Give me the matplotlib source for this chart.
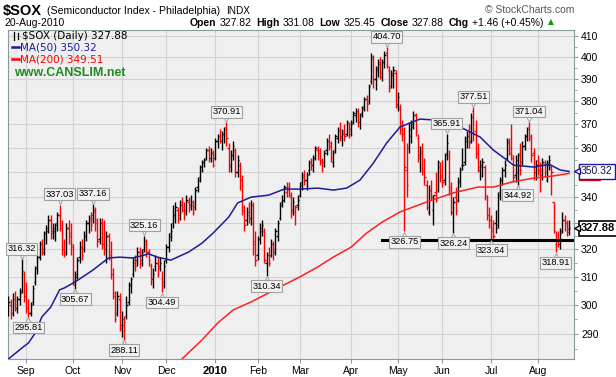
import numpy as np
import pandas as pd
import matplotlib
matplotlib.use('Agg')
import matplotlib.pyplot as plt
from matplotlib.collections import LineCollection
from matplotlib.lines import Line2D
from matplotlib.transforms import offset_copy, blended_transform_factory
from matplotlib.ticker import FixedLocator, FixedFormatter, NullFormatter

plt.rcParams['font.family'] = ['Liberation Sans', 'DejaVu Sans']

# trading days, 20-Aug-2009 .. 20-Aug-2010
holidays = ['2009-09-07', '2009-11-26', '2009-12-25', '2010-01-01', '2010-01-18',
            '2010-02-15', '2010-04-02', '2010-05-31', '2010-07-05']
dates = pd.bdate_range('2009-08-20', '2010-08-20')
dates = dates[~dates.isin(pd.to_datetime(holidays))]

opens = [
    300, 300, 297, 302, 299, 302, 305, 311,
    303, 299, 297, 301, 308, 313, 317, 322, 319, 326, 328, 331, 327, 327, 330, 333, 329, 320, 319, 328, 326,
    321, 307, 311, 317, 320, 320, 325, 330, 331, 333, 334, 330, 324, 330, 322, 320, 325, 319, 311, 303, 297, 302,
    293, 293, 296, 301, 307, 311, 315, 316, 319, 316, 320, 322, 319, 314, 309, 314, 315, 314, 309, 308,
    316, 321, 326, 330, 333, 335, 333, 338, 336, 335, 338, 337, 337, 336, 344, 348, 352, 354, 356, 359, 356, 358,
    356, 363, 365, 363, 366, 369, 360, 353, 357, 359, 350, 353, 347, 335, 331, 333, 332, 337, 323,
    318, 324, 327, 327, 315, 318, 318, 322, 319, 325, 332, 338, 339, 342, 344, 340, 335, 334, 337,
    341, 346, 349, 347, 351, 354, 353, 356, 359, 359, 354, 354, 359, 363, 362, 354, 359, 364, 368, 365, 367, 366, 370,
    368, 371, 374, 375, 371, 375, 378, 381, 380, 389, 399, 390, 395, 398, 391, 398, 402, 394, 387, 393, 393,
    379, 377, 366, 366, 351, 360, 365, 370, 374, 364, 357, 359, 350, 345, 334, 343, 335, 342, 343, 352,
    348, 347, 358, 357, 344, 334, 340, 339, 346, 353, 354, 363, 366, 363, 376, 367, 358, 351, 352, 352, 340, 333,
    331, 328, 330, 329, 342, 347, 351, 356, 362, 358, 356, 349, 350, 358, 354, 361, 365, 369, 364, 358, 350,
    355, 351, 349, 353, 347, 354, 352, 338, 322, 324, 322, 327, 331, 330, 327.82]

highs = [
    303, 302, 304, 305, 303, 306, 316.32, 312,
    308, 302, 301, 307, 314, 318, 323, 324, 327, 329, 333, 333, 330, 330, 334, 337.03, 331, 324, 330, 331, 330,
    322, 312, 317, 323, 324, 327, 331, 333, 334, 337.16, 336, 332, 332, 332, 331, 327, 326, 323, 313, 305, 305, 304,
    298, 296, 303, 308, 310, 317, 318, 321, 321, 320, 325.16, 324, 320, 315, 313, 318, 317, 317, 312, 316,
    322, 326, 330, 337, 338, 336, 339, 340, 338, 341, 340, 341, 339, 344, 348, 353, 355, 356, 360, 361, 360, 359,
    364, 366, 368, 367, 369, 370.91, 362, 359, 363, 360, 357, 354, 349, 337, 336, 338, 339, 338, 327,
    325, 330, 331, 328, 319, 321, 324, 323, 328, 331, 338, 341, 345, 346, 346, 342, 340, 337, 341,
    346, 350, 351, 350, 355, 356, 357, 361, 361, 360, 356, 359, 364, 366, 363, 359, 366, 369, 371, 368, 370, 372, 371,
    372, 376, 377, 377, 375, 378, 382, 383, 388, 402, 401, 396, 399, 400, 399, 403, 404.70, 396, 394, 396, 394,
    384, 379, 372, 369, 362, 371, 372, 376, 375, 366, 361, 362, 356, 347, 345, 347, 341, 350, 355, 354,
    355, 358, 365.91, 359, 346, 340, 344, 348, 352, 360, 365, 367, 370, 375, 377.51, 372, 362, 355, 356, 353, 341, 336,
    333, 331, 335, 342, 348, 352, 355, 364, 364, 370, 357, 357, 358, 362, 363, 366, 369, 371.04, 366, 360, 355,
    357, 354, 356, 355, 355, 357, 353, 338, 327, 327, 328, 334, 333, 331, 331.08]

lows = [
    296, 295, 296, 298, 297, 300, 304, 301,
    297, 295.81, 296, 300, 307, 311, 316, 318, 318, 322, 326, 324, 324, 323, 327, 327, 318, 317, 318, 322, 318,
    307, 305.67, 309, 315, 316, 319, 323, 326, 327, 330, 327, 321, 322, 320, 318, 315, 316, 309, 302, 294, 296, 291,
    289, 288.11, 295, 300, 304, 310, 312, 314, 313, 314, 319, 317, 314, 307, 306, 312, 310, 312, 304.49, 306,
    315, 319, 323, 328, 330, 330, 331, 334, 331, 333, 334, 335, 333, 335, 342, 346, 350, 352, 355, 354, 354, 352,
    355, 360, 362, 359, 362, 361, 350, 350, 355, 348, 348, 343, 333, 327, 329, 330, 329, 318, 314,
    316, 322, 325, 315, 310.34, 314, 317, 316, 318, 323, 331, 336, 338, 340, 340, 332, 333, 329, 335,
    340, 343, 345, 343, 349, 351, 350, 355, 355, 353, 350, 352, 357, 359, 354, 352, 358, 362, 363, 361, 363, 365, 364,
    365, 370, 371, 369, 368, 373, 376, 376, 379, 388, 386, 385, 391, 390, 389, 395, 395, 384, 386, 386, 377,
    376, 366, 363, 326.75, 340, 358, 362, 368, 365, 354, 350, 349, 345, 335, 333, 339, 329, 338, 342, 346,
    344, 345, 355, 341, 333, 326.24, 333, 338, 344, 351, 353, 360, 360, 362, 363, 356, 350, 347, 348, 339, 331, 328,
    323.64, 324, 326, 328, 339, 345, 348, 355, 357, 355, 346, 346, 344.92, 349, 353, 359, 363, 363, 354, 347, 347,
    349, 342, 347, 348, 346, 351, 341, 326, 318.91, 321, 320, 326, 327, 325, 325.45]

closes = [
    301, 297, 302, 299, 302, 304, 312, 303,
    299, 297, 300, 306, 313, 317, 322, 320, 326, 327, 331, 326, 328, 329, 333, 328, 320, 318, 328, 325, 322,
    308, 310, 316, 321, 318, 325, 330, 332, 329, 335, 331, 323, 330, 322, 320, 325, 318, 311, 304, 295, 303, 292,
    295, 294, 300, 307, 309, 316, 314, 319, 315, 319, 323, 319, 316, 309, 311, 315, 313, 315, 307, 314,
    321, 325, 327, 333, 336, 332, 337, 335, 334, 339, 336, 338, 334, 343, 347, 352, 354, 355, 359, 356, 358, 353,
    363, 365, 363, 366, 368, 364, 352, 357, 361, 350, 355, 347, 336, 329, 334, 332, 337, 322, 316,
    324, 328, 329, 316, 318, 315, 322, 320, 327, 330, 337, 339, 344, 343, 341, 334, 338, 336, 339,
    345, 348, 347, 349, 354, 353, 356, 360, 358, 355, 353, 358, 363, 361, 356, 358, 365, 367, 364, 366, 365, 371, 366,
    370, 375, 376, 371, 374, 377, 381, 379, 387, 400, 390, 394, 397, 393, 398, 401, 396, 386, 392, 394, 378,
    382, 368, 366, 352, 345, 368, 369, 374, 367, 356, 358, 351, 348, 336, 343, 340, 341, 339, 354, 349,
    346, 357, 362, 343, 334, 338, 335, 347, 351, 353, 364, 365, 362, 373, 366, 358, 352, 353, 354, 341, 333, 331,
    327, 325, 328, 341, 347, 351, 353, 363, 360, 357, 348, 355, 357, 351, 361, 365, 368, 365, 357, 352, 353,
    351, 348, 354, 350, 353, 355, 350, 327, 324, 322, 326, 331, 330, 326.42, 327.88]

# moving averages (bar index, value)
ma50_idx = [0, 6, 9, 12, 15, 19, 23, 25, 30, 38, 45, 50, 56, 63, 67, 73, 81, 87, 92, 99, 103, 109,
            117, 124, 131, 139, 146, 152, 158, 164, 170, 176, 185, 191, 197, 203, 212, 218, 224,
            227, 236, 243, 248, 252]
ma50_val = [281.7, 285.3, 287.0, 290.3, 295.8, 299.2, 305.3, 305.9, 308.1, 312.4, 316.8, 317.1,
            316.8, 318.3, 317.1, 316.0, 319.0, 322.3, 326.1, 332.2, 337.7, 340.0, 340.8, 343.2,
            343.2, 343.6, 342.8, 343.6, 346.8, 353.7, 362.1, 368.9, 372.3, 371.9, 370.6, 368.9,
            364.6, 359.1, 355.0, 352.9, 352.1, 353.3, 350.9, 350.32]
ma200_idx = [74, 78, 87, 94, 101, 109, 117, 122, 131, 139, 146, 154, 161, 168, 176, 188, 200,
             211, 218, 226, 236, 245, 252]
ma200_val = [279.5, 281.7, 288.0, 293.7, 298.2, 301.0, 304.2, 306.3, 309.9, 313.5, 317.1, 320.8,
             326.1, 330.3, 334.2, 338.1, 341.7, 344.0, 344.0, 346.0, 347.6, 348.5, 349.51]

peak_idx = [6, 23, 38, 61, 98, 170, 197, 209, 234]
trough_idx = [9, 30, 52, 69, 116, 178, 200, 217, 229, 246]
support_level = 323.64
support_start = 168

W, H = 616, 377
fig = plt.figure(figsize=(W / 100, H / 100), dpi=100, facecolor='white')
ax = fig.add_axes([8 / W, 1 - 359 / H, 566 / W, 329 / H])
ax.set_facecolor('#efefef')
ax.set_yscale('log')

n = len(closes)
segs, cols = [], []
for i in range(n):
    c = '#ff0000' if i > 0 and closes[i] < closes[i - 1] else '#000000'
    segs += [[(i, lows[i]), (i, highs[i])],
             [(i - 0.55, opens[i]), (i, opens[i])],
             [(i, closes[i]), (i + 0.55, closes[i])]]
    cols += [c] * 3
ax.add_collection(LineCollection(segs, colors=cols, linewidths=1.0, zorder=3))

ax.plot(ma50_idx, ma50_val, color='#1c1c96', lw=1.1, zorder=4)
ax.plot(ma200_idx, ma200_val, color='#ff2020', lw=1.1, zorder=4)
ax.plot([support_start, n + 2], [support_level, support_level], color='black', lw=2.2, zorder=5)

ax.set_xlim(-0.2, 254.2)
ax.set_ylim(281.7, 412.9)

# axes / grid
month_pos = [i for i in range(1, n) if dates[i].month != dates[i - 1].month]
month_lab = ['2010' if dates[i].month == 1 else dates[i].strftime('%b') for i in month_pos]
ax.set_xticks(month_pos)
ax.set_xticklabels(month_lab, fontsize=7.5)
for t in ax.get_xticklabels():
    if t.get_text() == '2010':
        t.set_fontweight('bold')
        t.set_fontsize(8)
yt = list(range(290, 411, 10))
# 330 and 350 sit under the value boxes on the right
ylab = ['' if v in (330, 350) else str(v) for v in yt]
ax.yaxis.set_major_locator(FixedLocator(yt))
ax.yaxis.set_major_formatter(FixedFormatter(ylab))
ax.yaxis.set_minor_locator(FixedLocator(list(range(285, 411, 10))))
ax.yaxis.set_minor_formatter(NullFormatter())
ax.yaxis.tick_right()
ax.tick_params(axis='y', which='major', labelsize=7.5, length=3, pad=2, color='#8a9a9a')
ax.tick_params(axis='y', which='minor', length=2, color='#8a9a9a')
ax.tick_params(axis='x', length=3, pad=2, color='#8a9a9a')
ax.grid(True, which='major', color='#d2d2d2', lw=0.8)
ax.set_axisbelow(True)
for s in ax.spines.values():
    s.set_color('#8a9a9a')

# value tags
box = dict(boxstyle='square,pad=0.15', fc='#f2f2f2', ec='#a0a0a0', lw=0.8)
for i in peak_idx:
    v = highs[i]
    ax.plot(i, v, marker='v', ms=4, mfc='#f2f2f2', mec='#a0a0a0', mew=0.7, zorder=6,
            transform=offset_copy(ax.transData, fig=fig, y=2.5, units='points'))
    ax.annotate(f'{v:.2f}', (i, v), xytext=(0, 4.3), textcoords='offset points', ha='center',
                va='bottom', fontsize=6.7, bbox=box, zorder=7)
for i in trough_idx:
    v = lows[i]
    ax.plot(i, v, marker='^', ms=4, mfc='#f2f2f2', mec='#a0a0a0', mew=0.7, zorder=6,
            transform=offset_copy(ax.transData, fig=fig, y=-2.5, units='points'))
    ax.annotate(f'{v:.2f}', (i, v), xytext=(0, -4.3), textcoords='offset points', ha='center',
                va='top', fontsize=6.7, bbox=box, zorder=7)

# right-side value boxes (MA200 box peeks out under the MA50 one)
trb = blended_transform_factory(ax.transAxes, ax.transData)
ax.text(1.0, ma50_val[-1], '      ', transform=offset_copy(trb, fig=fig, x=5, y=-1.3, units='points'),
        ha='left', va='center', fontsize=7.5, clip_on=False, zorder=9,
        bbox=dict(boxstyle='square,pad=0.2', fc='white', ec='#ff0000', lw=1.0))
ax.text(1.0, ma50_val[-1], f'{ma50_val[-1]:.2f}', transform=offset_copy(trb, fig=fig, x=5, units='points'),
        ha='left', va='center', fontsize=7.5, color='#10104a', clip_on=False, zorder=10,
        bbox=dict(boxstyle='square,pad=0.2', fc='white', ec='#1c1c96', lw=1.0))
ax.plot([1.0], [ma50_val[-1]], marker='<', ms=5, mfc='white', mec='#1c1c96', clip_on=False, zorder=11,
        transform=offset_copy(trb, fig=fig, x=2.5, units='points'))
ax.text(1.0, closes[-1], f'{closes[-1]:.2f}', transform=offset_copy(trb, fig=fig, x=5, units='points'),
        ha='left', va='center', fontsize=8, fontweight='bold', clip_on=False, zorder=10,
        bbox=dict(boxstyle='square,pad=0.2', fc='white', ec='black', lw=1.2))
ax.plot([1.0], [closes[-1]], marker='<', ms=5, mfc='white', mec='black', clip_on=False, zorder=11,
        transform=offset_copy(trb, fig=fig, x=2.5, units='points'))


def px(xp, yp):
    return xp / W, 1 - yp / H


r = fig.canvas.get_renderer()

# header
fig.text(*px(3, 11), '$SOX', fontsize=10.5, fontweight='bold', va='center')
t = fig.text(*px(47, 11), '(Semiconductor Index - Philadelphia)', fontsize=7.6, va='center')
fig.text(*px(47 + t.get_window_extent(r).width + 6, 11), 'INDX', fontsize=7.2, va='center')
fig.text(*px(574, 10), '\u00a9 StockCharts.com', fontsize=7.5, va='center', ha='right', color='#555555')
fig.text(*px(4, 23), '20-Aug-2010', fontsize=7.5, va='center')
xp = 190
for s, b in [('Open', 1), ('327.82', 0), ('High', 1), ('331.08', 0), ('Low', 1), ('325.45', 0),
             ('Close', 1), ('327.88', 0), ('Chg', 1), ('+1.46 (+0.45%)', 0)]:
    t = fig.text(*px(xp, 23), s, fontsize=7.5, fontweight='bold' if b else 'normal', va='center')
    xp += t.get_window_extent(r).width + (3 if b else 5)
fig.text(*px(xp, 22), '\u25b2', fontsize=5.5, va='center', color='#00a000', family='DejaVu Sans')

# legend inside chart
for xs, y0, y1 in [(13.5, 32, 40), (17.5, 33, 39)]:
    fig.add_artist(Line2D([xs / W, xs / W], [1 - y0 / H, 1 - y1 / H], color='black', lw=0.9))
fig.text(*px(22, 36), '$SOX (Daily) 327.88', fontsize=7.5, va='center', family='DejaVu Sans')
fig.add_artist(Line2D([12 / W, 19 / W], [1 - 47 / H, 1 - 47 / H], color='#1c1c96', lw=1.8))
fig.text(*px(20, 47), 'MA(50) 350.32', fontsize=7.5, va='center', color='#1c1c96', family='DejaVu Sans')
fig.add_artist(Line2D([12 / W, 19 / W], [1 - 59 / H, 1 - 59 / H], color='#ff0000', lw=1.8))
fig.text(*px(20, 59), 'MA(200) 349.51', fontsize=7.5, va='center', color='#ff0000', family='DejaVu Sans')
fig.text(*px(14, 73), 'www.CANSLIM.net', fontsize=9, fontweight='bold', va='center', color='#1e8c1e')

fig.savefig('out.png', dpi=100)
